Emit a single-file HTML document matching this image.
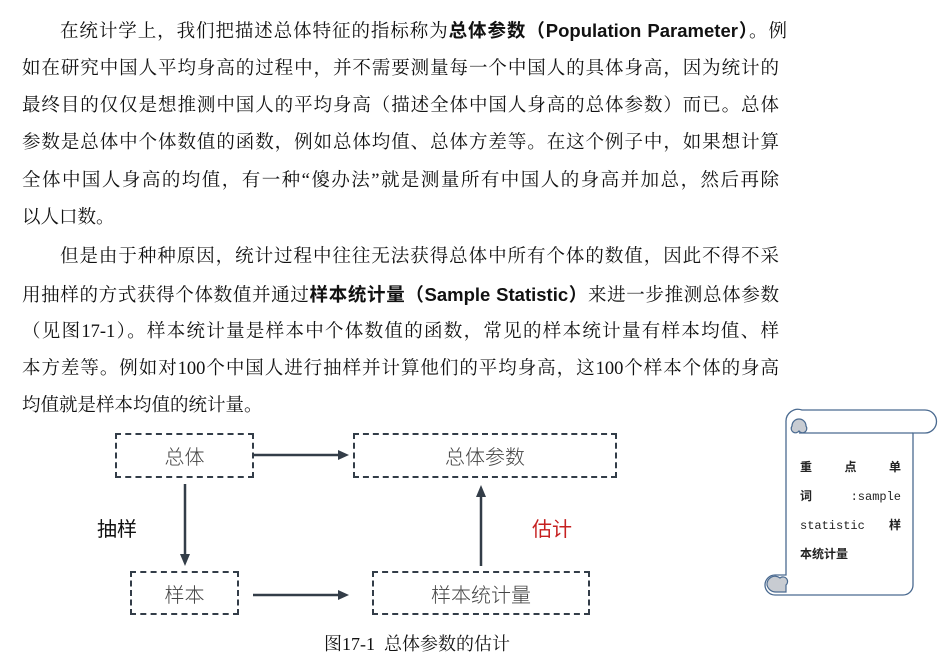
<!DOCTYPE html>
<html><head><meta charset="utf-8"><style>
body{margin:0;width:942px;height:655px;background:#fff;position:relative;overflow:hidden;font-family:"Liberation Serif","Noto Serif CJK SC",serif;color:#111}
.l{position:absolute;font-size:18.5px;line-height:24px;white-space:nowrap;text-align:justify;text-align-last:justify}
.l.e{text-align-last:left}
b{font-family:"Liberation Sans","Noto Sans CJK SC",sans-serif;font-weight:bold}
.bx{position:absolute;border:2px dashed #333d48;box-sizing:border-box;display:flex;align-items:center;justify-content:center;font-family:"Noto Sans CJK SC",sans-serif;font-size:20px;color:#444;font-weight:300}
.t{position:absolute;font-family:"Noto Sans CJK SC",sans-serif;font-size:20px}
.s div{height:29px;line-height:29px;overflow:visible}
</style></head><body>
<div class="l" style="left:60px;top:19px;width:727px">在统计学上，我们把描述总体特征的指标称为<b>总体参数（Population Parameter）</b>。例</div>
<div class="l" style="left:22px;top:57px;width:757px">如在研究中国人平均身高的过程中，并不需要测量每一个中国人的具体身高，因为统计的</div>
<div class="l" style="left:22px;top:94px;width:757px">最终目的仅仅是想推测中国人的平均身高（描述全体中国人身高的总体参数）而已。总体</div>
<div class="l" style="left:22px;top:131px;width:757px">参数是总体中个体数值的函数，例如总体均值、总体方差等。在这个例子中，如果想计算</div>
<div class="l" style="left:22px;top:169px;width:757px">全体中国人身高的均值，有一种“傻办法”就是测量所有中国人的身高并加总，然后再除</div>
<div class="l e" style="left:22px;top:206px">以人口数。</div>
<div class="l" style="left:60px;top:245px;width:719px">但是由于种种原因，统计过程中往往无法获得总体中所有个体的数值，因此不得不采</div>
<div class="l" style="left:22px;top:283px;width:757px">用抽样的方式获得个体数值并通过<b>样本统计量（Sample Statistic）</b>来进一步推测总体参数</div>
<div class="l" style="left:22px;top:320px;width:757px">（见图17-1）。样本统计量是样本中个体数值的函数，常见的样本统计量有样本均值、样</div>
<div class="l" style="left:22px;top:357px;width:757px">本方差等。例如对100个中国人进行抽样并计算他们的平均身高，这100个样本个体的身高</div>
<div class="l e" style="left:22px;top:394px">均值就是样本均值的统计量。</div>

<div class="bx" style="left:115px;top:433px;width:139px;height:45px">总体</div>
<div class="bx" style="left:353px;top:433px;width:264px;height:45px">总体参数</div>
<div class="bx" style="left:130px;top:571px;width:109px;height:44px">样本</div>
<div class="bx" style="left:372px;top:571px;width:218px;height:44px">样本统计量</div>
<svg style="position:absolute;left:0;top:0" width="942" height="655">
<g stroke="#333d48" stroke-width="2.5" fill="#333d48">
<line x1="253" y1="455" x2="340" y2="455"/><polygon points="349,455 338,450 338,460" stroke="none"/>
<line x1="253" y1="595" x2="340" y2="595"/><polygon points="349,595 338,590 338,600" stroke="none"/>
<line x1="185" y1="484" x2="185" y2="556"/><polygon points="185,566 180,554 190,554" stroke="none"/>
<line x1="481" y1="566" x2="481" y2="495"/><polygon points="481,485 476,497 486,497" stroke="none"/>
</g>
<g stroke="#4a6a90" stroke-width="1.3" fill="#fff">
<path d="M802,410 H925 A11.5,11.5 0 0 1 925,433 H913 V585 A10,10 0 0 1 903,595 H775 A10,10 0 0 1 775,575 H786 V422 A12,12 0 0 1 802,410 Z"/>
</g>
<path d="M792,426 A7,7 0 0 1 806,426 A4,4 0 0 1 799,431 A3,3 0 0 1 792,426Z" fill="#c8ccd2" stroke="#4a6a90" stroke-width="1.2"/>
<path d="M799,433 H913" stroke="#4a6a90" stroke-width="1.3"/>
<path d="M767,585 A8,8 0 0 1 780,578 A4,4 0 0 1 786,585 V592 H776 A9,9 0 0 1 767,585Z" fill="#c8ccd2" stroke="#4a6a90" stroke-width="1.2"/>
</svg>
<div class="t" style="left:97px;top:513px">抽样</div>
<div class="t" style="left:532px;top:513px;color:#c62020">估计</div>
<div style="position:absolute;left:324px;top:630px;font-size:18px">图17-1&nbsp; 总体参数的估计</div>
<div class="s" style="position:absolute;left:800px;top:452px;width:101px;font-family:'Liberation Mono','Noto Sans CJK SC',monospace;font-size:12px;text-align:justify;text-align-last:justify;color:#222"><div><b style="font-family:'Noto Sans CJK SC'">重 点 单</b></div><div><b style="font-family:'Noto Sans CJK SC'">词</b> :sample</div><div>statistic <b style="font-family:'Noto Sans CJK SC'">样</b></div><div style="text-align-last:left"><b style="font-family:'Noto Sans CJK SC'">本统计量</b></div></div>
</body></html>
